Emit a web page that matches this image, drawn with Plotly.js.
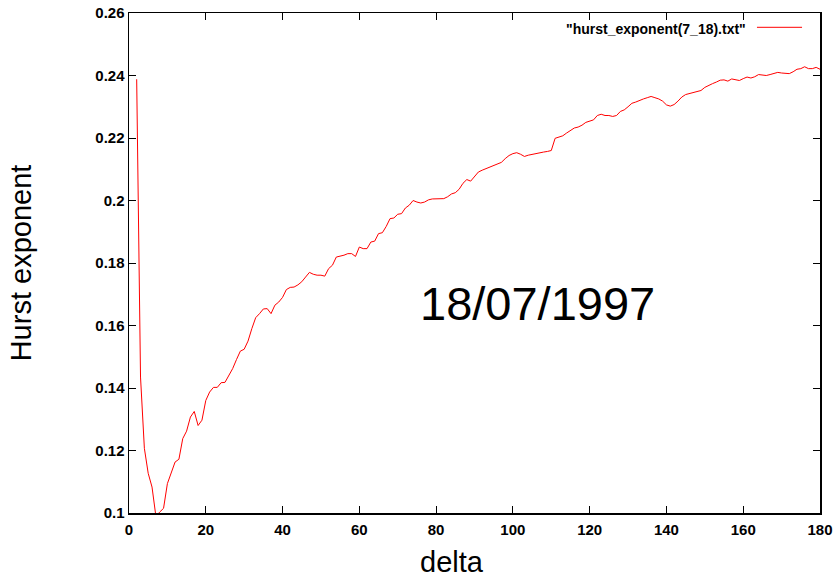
<!DOCTYPE html>
<html>
<head>
<meta charset="utf-8">
<script src="https://cdn.plot.ly/plotly-3.0.1.min.js"></script>
<style>html,body{margin:0;padding:0;background:#fff;}#chart{width:838px;height:577px;}</style>
</head>
<body>
<div id="chart"></div>
<script>
const seriesName = '"hurst_exponent(7_18).txt"';
const dateLabel = '18/07/1997';
const xTitle = 'delta';
const yTitle = 'Hurst exponent';
const xTickVals = [0, 20, 40, 60, 80, 100, 120, 140, 160, 180];
const yTickVals = [0.1, 0.12, 0.14, 0.16, 0.18, 0.2, 0.22, 0.24, 0.26];
const yTickText = ['0.1', '0.12', '0.14', '0.16', '0.18', '0.2', '0.22', '0.24', '0.26'];

const deltaStart = 2;
const hurst = [
  0.2388, 0.1435, 0.1207, 0.1127, 0.1083, 0.0990, 0.1003, 0.1015, 0.1094, 0.1131,
  0.1163, 0.1172, 0.1238, 0.1262, 0.1307, 0.1325, 0.1280, 0.1297, 0.1360, 0.1387,
  0.1402, 0.1402, 0.1417, 0.1418, 0.1441, 0.1462, 0.1491, 0.1518, 0.1524, 0.1550,
  0.1590, 0.1625, 0.1638, 0.1653, 0.1654, 0.1638, 0.1665, 0.1675, 0.1690, 0.1715,
  0.1722, 0.1723, 0.1730, 0.1740, 0.1755, 0.1770, 0.1764, 0.1761, 0.1761, 0.1758,
  0.1782, 0.1793, 0.1819, 0.1821, 0.1825, 0.1830, 0.1830, 0.1821, 0.1851, 0.1846,
  0.1846, 0.1867, 0.1870, 0.1894, 0.1897, 0.1917, 0.1942, 0.1944, 0.1956, 0.1958,
  0.1976, 0.1985, 0.2000, 0.1995, 0.1992, 0.1995, 0.2002, 0.2005, 0.2006, 0.2007,
  0.2006, 0.2012, 0.2021, 0.2025, 0.2036, 0.2055, 0.2067, 0.2062, 0.2077, 0.2091,
  0.2097, 0.2102, 0.2107, 0.2112, 0.2116, 0.2122, 0.2134, 0.2144, 0.2150, 0.2153,
  0.2148, 0.2141, 0.2145, 0.2148, 0.2150, 0.2152, 0.2155, 0.2157, 0.2160, 0.2199,
  0.2202, 0.2207, 0.2216, 0.2223, 0.2232, 0.2235, 0.2241, 0.2250, 0.2254, 0.2258,
  0.2272, 0.2276, 0.2272, 0.2272, 0.2269, 0.2272, 0.2285, 0.2290, 0.2300, 0.2311,
  0.2315, 0.2321, 0.2325, 0.2329, 0.2333, 0.2329, 0.2325, 0.2318, 0.2306, 0.2302,
  0.2307, 0.2318, 0.2331, 0.2339, 0.2342, 0.2346, 0.2349, 0.2352, 0.2362, 0.2369,
  0.2374, 0.2379, 0.2385, 0.2386, 0.2382, 0.2389, 0.2387, 0.2384, 0.2390, 0.2395,
  0.2392, 0.2396, 0.2403, 0.2401, 0.2400, 0.2403, 0.2407, 0.2410, 0.2408, 0.2406,
  0.2406, 0.2412, 0.2420, 0.2422, 0.2428, 0.2422, 0.2422, 0.2426, 0.2420
];
const delta = hurst.map((_, i) => deltaStart + i);

const FONT = '"Liberation Sans", Arial, Helvetica, sans-serif';

const trace = {
  x: delta, y: hurst, type: 'scatter', mode: 'lines',
  name: seriesName, showlegend: false,
  line: {color: '#ff0000', width: 1}
};

const axisCommon = {
  showgrid: false, zeroline: false, showline: true, linecolor: '#000', linewidth: 1.5,
  mirror: 'ticks', ticks: 'inside', ticklen: 7, tickwidth: 1, tickcolor: '#000',
  tickfont: {family: FONT, size: 15, color: '#000', weight: 'bold'},
  automargin: false
};

const layout = {
  width: 838, height: 577,
  margin: {l: 129, r: 18, t: 13, b: 64},
  paper_bgcolor: '#fff', plot_bgcolor: '#fff',
  font: {family: FONT, color: '#000'},
  showlegend: false,
  xaxis: Object.assign({}, axisCommon, {
    range: [0, 180], tickvals: xTickVals, ticktext: xTickVals.map(String),
    ticklabelstandoff: 2,
    title: {text: ''}
  }),
  yaxis: Object.assign({}, axisCommon, {
    range: [0.1, 0.26], tickvals: yTickVals, ticktext: yTickText,
    title: {text: yTitle, font: {family: FONT, size: 29, color: '#000'}, standoff: 55}
  }),
  annotations: [
    {x: 0.4674, y: 0, xref: 'paper', yref: 'paper', yshift: -49, text: xTitle, showarrow: false,
     borderpad: 0, xanchor: 'center', yanchor: 'middle', font: {family: FONT, size: 29, color: '#000'}},
    {x: 106.4, y: 0.1671, xref: 'x', yref: 'y', text: dateLabel, showarrow: false,
     xanchor: 'center', yanchor: 'middle', font: {family: FONT, size: 47, color: '#000'}},
    {x: 0.8958, y: 0.968, xref: 'paper', yref: 'paper', text: seriesName, showarrow: false,
     xanchor: 'right', yanchor: 'middle', font: {family: FONT, size: 14, color: '#000', weight: 'bold'}}
  ],
  shapes: [
    {type: 'line', xref: 'paper', yref: 'paper', x0: 0.9088, x1: 0.974, y0: 0.9714, y1: 0.9714,
     line: {color: '#ff0000', width: 1}}
  ]
};

Plotly.newPlot('chart', [trace], layout, {displayModeBar: false, staticPlot: true});
</script>
</body>
</html>
